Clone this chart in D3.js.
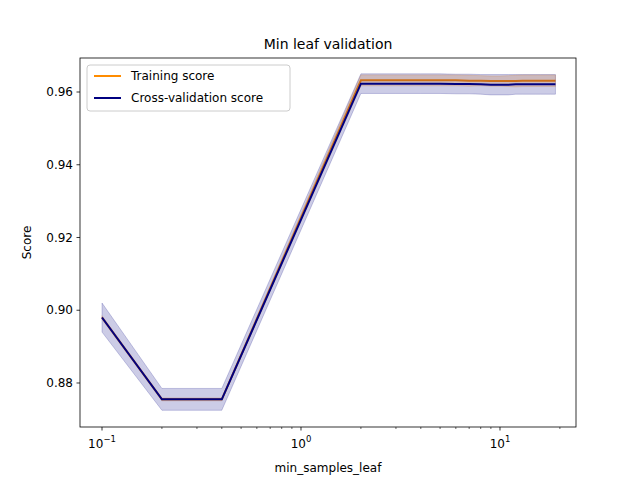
<!DOCTYPE html>
<html><head><meta charset="utf-8">
<script src="https://d3js.org/d3.v7.min.js"></script>
<style>body{margin:0;background:#fff}text{font-family:"DejaVu Sans",sans-serif}</style>
</head><body><div id="chart"></div>
<script>
const xs = [0.1, 0.2, 0.4, 2, 3, 4, 5, 6, 7, 8, 9, 10, 11, 12, 13, 14, 15, 16, 17, 18, 19];
const trainMean = [0.898, 0.8755, 0.8755, 0.9632, 0.9632, 0.9632, 0.9632, 0.9632, 0.9631, 0.9631, 0.963, 0.963, 0.963, 0.963, 0.9631, 0.9631, 0.9631, 0.9631, 0.9631, 0.9631, 0.9631];
const trainStd = [0.0005, 0.0004, 0.0004, 0.0015, 0.0015, 0.0015, 0.0015, 0.0015, 0.0015, 0.0014, 0.0014, 0.0014, 0.0015, 0.0016, 0.0016, 0.0016, 0.0016, 0.0016, 0.0016, 0.0016, 0.0016];
const cvMean = [0.898, 0.8755, 0.8755, 0.9623, 0.9623, 0.9623, 0.9623, 0.9622, 0.9622, 0.9621, 0.962, 0.962, 0.962, 0.9621, 0.9621, 0.9621, 0.9621, 0.9621, 0.9621, 0.9621, 0.9621];
const cvStd = [0.004, 0.003, 0.003, 0.0027, 0.0027, 0.0027, 0.0027, 0.0027, 0.0027, 0.0027, 0.0028, 0.0028, 0.0028, 0.0027, 0.0027, 0.0027, 0.0027, 0.0027, 0.0027, 0.0027, 0.0027];
const yTicks = [0.88, 0.90, 0.92, 0.94, 0.96];

const W = 640, H = 480, m = {l: 80, r: 64, t: 58, b: 53};
const svg = d3.select("#chart").append("svg").attr("width", W).attr("height", H);
const x = d3.scaleLog().domain([Math.pow(10, -1.1106), Math.pow(10, 1.382)]).range([m.l, W - m.r]);
const y = d3.scaleLinear().domain([0.8679, 0.96935]).range([H - m.b, m.t]);

const area = (mean, sd) => d3.area().x((d, i) => x(xs[i])).y0((d, i) => y(mean[i] - sd[i])).y1((d, i) => y(mean[i] + sd[i]))(xs);
const line = mean => d3.line().x((d, i) => x(xs[i])).y((d, i) => y(mean[i]))(xs);

svg.append("path").attr("d", area(trainMean, trainStd)).attr("fill", "darkorange").attr("fill-opacity", 0.2).attr("stroke", "darkorange").attr("stroke-opacity", 0.2);
svg.append("path").attr("d", line(trainMean)).attr("fill", "none").attr("stroke", "darkorange").attr("stroke-width", 2);
svg.append("path").attr("d", area(cvMean, cvStd)).attr("fill", "navy").attr("fill-opacity", 0.2).attr("stroke", "navy").attr("stroke-opacity", 0.2);
svg.append("path").attr("d", line(cvMean)).attr("fill", "none").attr("stroke", "navy").attr("stroke-width", 2);

const xMajor = [0.1, 1, 10];
const xMinor = d3.range(2, 10).map(k => k * 0.1).concat(d3.range(2, 10)).concat([20]);
const gx = svg.append("g").attr("transform", `translate(0,${H - m.b})`);
gx.selectAll("line.mi").data(xMinor).join("line").attr("x1", d => x(d)).attr("x2", d => x(d)).attr("y2", 2).attr("stroke", "#000").attr("stroke-width", 0.6);
gx.selectAll("line.ma").data(xMajor).join("line").attr("x1", d => x(d)).attr("x2", d => x(d)).attr("y2", 3.5).attr("stroke", "#000").attr("stroke-width", 0.8);
const xl = gx.selectAll("text").data(xMajor).join("text").attr("x", d => x(d)).attr("y", 21).attr("text-anchor", "middle").attr("font-size", 12);
xl.text("10").append("tspan").attr("dy", -6).attr("font-size", 8.5).text(d => Math.round(Math.log10(d)) < 0 ? "\u22121" : Math.round(Math.log10(d)));

const gy = svg.append("g").attr("transform", `translate(${m.l},0)`);
gy.selectAll("line").data(yTicks).join("line").attr("y1", d => y(d)).attr("y2", d => y(d)).attr("x2", -3.5).attr("stroke", "#000").attr("stroke-width", 0.8);
gy.selectAll("text").data(yTicks).join("text").attr("x", -7).attr("y", d => y(d)).attr("dy", "0.35em").attr("text-anchor", "end").attr("font-size", 12).text(d => d.toFixed(2));

svg.append("rect").attr("x", m.l).attr("y", m.t).attr("width", W - m.l - m.r).attr("height", H - m.t - m.b).attr("fill", "none").attr("stroke", "#000").attr("stroke-width", 0.8);

svg.append("text").attr("x", (m.l + W - m.r) / 2).attr("y", 49).attr("text-anchor", "middle").attr("font-size", 14).text("Min leaf validation");
svg.append("text").attr("x", (m.l + W - m.r) / 2).attr("y", 472).attr("text-anchor", "middle").attr("font-size", 12).text("min_samples_leaf");
svg.append("text").attr("transform", `translate(31,${(m.t + H - m.b) / 2}) rotate(-90)`).attr("text-anchor", "middle").attr("font-size", 12).text("Score");

const lg = svg.append("g").attr("transform", "translate(87,65)");
lg.append("rect").attr("width", 203).attr("height", 46).attr("rx", 3).attr("fill", "#fff").attr("fill-opacity", 0.8).attr("stroke", "#ccc");
[["Training score", "darkorange"], ["Cross-validation score", "navy"]].forEach(([t, c], i) => {
  lg.append("line").attr("x1", 7).attr("x2", 34).attr("y1", 11 + i * 22).attr("y2", 11 + i * 22).attr("stroke", c).attr("stroke-width", 2);
  lg.append("text").attr("x", 44).attr("y", 11 + i * 22).attr("dy", "0.35em").attr("font-size", 12).text(t);
});
</script></body></html>
